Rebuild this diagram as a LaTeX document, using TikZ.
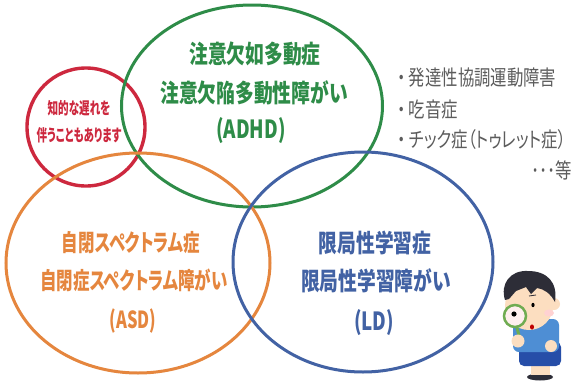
\documentclass[tikz,border=0pt]{standalone}
\usepackage{fontspec}
\usetikzlibrary{shapes.geometric}
\newfontfamily\jp{Noto Sans CJK JP}[FakeStretch=0.75, RawFeature=+palt]
\newfontfamily\jpasd{Noto Sans CJK JP}[FakeStretch=0.70, RawFeature=+palt]
\newfontfamily\jpnarrow{Noto Sans CJK JP}[FakeStretch=0.64, RawFeature=+palt]
\newfontfamily\jplist{Noto Sans CJK JP}[FakeStretch=0.78, RawFeature=+palt]
\definecolor{adhd}{RGB}{46,140,72}
\definecolor{idred}{RGB}{205,40,62}
\definecolor{asd}{RGB}{229,134,62}
\definecolor{ld}{RGB}{66,98,164}
\definecolor{note}{RGB}{92,92,92}
\definecolor{skin}{RGB}{252,222,192}
\definecolor{hair}{RGB}{45,45,55}
\definecolor{shirt}{RGB}{78,142,212}
\definecolor{shorts}{RGB}{38,78,168}
\definecolor{lens}{RGB}{112,172,82}
\tikzset{
  ring/.style={ellipse, draw, line width=3pt, inner sep=0pt},
  bigtext/.style={font=\jp\bfseries\fontsize{25}{28}\selectfont},
  midtext/.style={font=\jpasd\bfseries\fontsize{23.5}{26}\selectfont},
  smalltext/.style={font=\jpnarrow\bfseries\fontsize{16.5}{18}\selectfont, text=idred},
  listtext/.style={font=\jplist\fontsize{21}{24}\selectfont, text=note, anchor=west, inner sep=0.5pt},
}
\newcommand{\dotitem}{・\hspace{3pt}}
\begin{document}
\begin{tikzpicture}[x=1pt, y=-1pt]
\useasboundingbox (0,0) rectangle (574,381);
\fill[white] (0,0) rectangle (574,381);

% the four circles
\node[ring, draw=idred, line width=3.4pt, minimum width=118pt, minimum height=118pt] (idc) at (86,127) {};
\node[ring, draw=adhd, minimum width=261pt, minimum height=202pt] (adhdc) at (252,106) {};
\node[ring, draw=asd, minimum width=264pt, minimum height=220pt] (asdc) at (138,263) {};
\node[ring, draw=ld, minimum width=260pt, minimum height=220pt] (ldc) at (363,262) {};

% ADHD labels
\node[bigtext, text=adhd] (adhd1) at (255,54) {注意欠如多動症};
\node[bigtext, text=adhd] (adhd2) at (254,93) {注意欠陥多動性障がい};
\node[bigtext, text=adhd] (adhd3) at (251,131) {(ADHD)};

% intellectual disability note
\node[smalltext] (id1) at (79,108) {知的な遅れを};
\node[smalltext] (id2) at (79,135) {伴うこともあります};

% ASD labels
\node[midtext, text=asd] (asd1) at (131,243) {自閉スペクトラム症};
\node[midtext, text=asd] (asd2) at (134,280) {自閉症スペクトラム障がい};
\node[midtext, text=asd] (asd3) at (133,321) {(ASD)};

% LD labels
\node[bigtext, text=ld] (ld1) at (375,243) {限局性学習症};
\node[bigtext, text=ld] (ld2) at (376,281) {限局性学習障がい};
\node[bigtext, text=ld] (ld3) at (374,323) {(LD)};

% other conditions
\node[listtext] (o1) at (397,78) {\dotitem 発達性協調運動障害};
\node[listtext] (o2) at (397,110) {\dotitem 吃音症};
\node[listtext] (o3) at (397,140) {\dotitem チック症（トゥレット症）};
\node[listtext, anchor=east] (o4) at (573,170) {･･･等};

% boy with a magnifying glass
\fill[hair] (540,377) ellipse (13 and 3.5);
\fill[skin] (531,358) rectangle (550,375);
\fill[shorts, rounded corners=5pt] (519,342) rectangle (561,366);
\fill[shirt, rounded corners=6pt] (513,319) rectangle (559,352);
\fill[skin] (551,346) circle (6);
\fill[skin] (529,306) ellipse (24 and 24);
\fill[skin] (554,304) circle (6);
\fill[hair] (505,300) .. controls (500,284) and (510,270) .. (528,271)
  .. controls (547,271) and (558,282) .. (555,302)
  .. controls (550,293) and (544,289) .. (537,288)
  -- (531,294) -- (526,287) -- (516,291) -- (509,299) -- cycle;
\fill[pink!70] (549,313) ellipse (5 and 3.5);
\fill[black] (533,305) ellipse (1.6 and 2.2);
\draw[hair, line width=0.8pt] (529,296) -- (536,295);
\fill[red!75!black] (532,327) ellipse (2 and 2.6);
\draw[lens, line width=3pt] (517,328) -- (520,339);
\fill[skin] (518,341) circle (6.5);
\filldraw[fill=pink!25, draw=lens, line width=2.5pt] (515,316) circle (11);
\fill[black] (514,314) circle (2.6);
\end{tikzpicture}
\end{document}
